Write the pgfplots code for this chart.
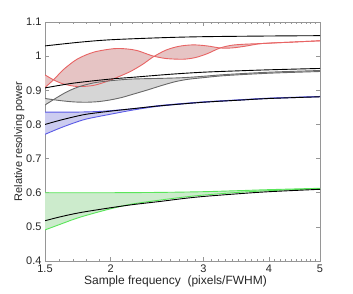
\documentclass[border=0pt]{standalone}
\usepackage{pgfplots}
\pgfplotsset{compat=1.18}
\usepgfplotslibrary{fillbetween}
\usepackage{fontspec}
\setmainfont{Liberation Sans}
\definecolor{redl}{RGB}{232,100,100}
\definecolor{redf}{RGB}{230,196,196}
\definecolor{grayl}{RGB}{105,105,105}
\definecolor{grayf}{RGB}{214,214,214}
\definecolor{bluel}{RGB}{90,90,230}
\definecolor{bluef}{RGB}{204,204,240}
\definecolor{greenl}{RGB}{90,230,90}
\definecolor{greenf}{RGB}{204,235,204}
\definecolor{axgray}{RGB}{150,150,150}
\begin{document}
\begin{tikzpicture}
\begin{axis}[
  at={(45pt,33pt)}, anchor=south west,
  scale only axis, width=275pt, height=239pt,
  xmode=log, xmin=1.5, xmax=5, ymin=0.4, ymax=1.1,
  xtick={1.5,2,3,4,5}, xticklabels={1.5,2,3,4,5},
  minor xtick={1.6,1.7,1.8,1.9,2.1,2.2,2.3,2.4,2.5,2.6,2.7,2.8,2.9,3.1,3.2,3.3,3.4,3.5,3.6,3.7,3.8,3.9,4.1,4.2,4.3,4.4,4.5,4.6,4.7,4.8,4.9},
  ytick={0.4,0.5,...,1.1},
  yticklabels={0.4,0.5,0.6,0.7,0.8,0.9,1,1.1},
  /pgf/number format/assume math mode=true,
  tick align=inside, major tick length=4pt, minor tick length=2pt,
  axis line style={axgray, line width=0.8pt},
  every tick/.style={axgray, line width=0.5pt},
  tick label style={font=\fontsize{11}{13}\selectfont, text=black!85},
  xlabel={Sample frequency\ \ (pixels/FWHM)},
  ylabel={Relative resolving power},
  xlabel style={font=\fontsize{12}{14}\selectfont, text=black!85, yshift=3pt, xshift=-7pt},
  ylabel style={font=\fontsize{11}{13}\selectfont, text=black!85, yshift=-5pt},
]
% red band
\addplot[draw=none, name path=rA, smooth] coordinates {
 (1.5,0.945) (1.56,0.930) (1.63,0.918) (1.73,0.911) (1.85,0.914) (1.95,0.924) (2.05,0.937) (2.18,0.955) (2.3,0.976) (2.41,0.998) (2.55,1.018) (2.7,1.029) (2.87,1.033) (3.05,1.030) (3.23,1.024) (3.4,1.024) (3.6,1.029) (3.88,1.037) (4.4,1.041) (5,1.045)};
\addplot[draw=none, name path=rB, smooth] coordinates {
 (1.5,0.908) (1.56,0.932) (1.63,0.962) (1.73,0.992) (1.86,1.012) (2.03,1.022) (2.15,1.021) (2.25,1.016) (2.4,1.001) (2.55,0.993) (2.75,0.991) (2.9,0.996) (3.05,1.007) (3.23,1.024) (3.4,1.032) (3.6,1.035) (3.88,1.037) (4.4,1.041) (5,1.045)};
\addplot[fill=redf, draw=none] fill between[of=rA and rB];
% gray band
\addplot[draw=none, name path=gA, smooth] coordinates {
 (1.5,0.857) (1.63,0.891) (1.73,0.909) (1.86,0.922) (2.03,0.929) (2.2,0.933) (2.5,0.935) (2.75,0.937) (3.0,0.941) (3.3,0.946) (4.0,0.953) (5,0.958)};
\addplot[draw=none, name path=gB, smooth] coordinates {
 (1.5,0.876) (1.6,0.870) (1.7,0.866) (1.8,0.865) (1.9,0.867) (2.0,0.872) (2.1,0.879) (2.2,0.888) (2.35,0.901) (2.5,0.914) (2.65,0.925) (2.8,0.932) (3.0,0.937) (3.3,0.943) (4.0,0.950) (5,0.955)};
\addplot[fill=grayf, draw=none] fill between[of=gA and gB];
% blue band
\addplot[draw=none, name path=bA, smooth] coordinates {
 (1.5,0.836) (1.7,0.836) (1.9,0.838) (2.1,0.843) (2.3,0.849) (2.5,0.856) (3,0.866) (3.5,0.872) (4,0.877) (5,0.882)};
\addplot[draw=none, name path=bB, smooth] coordinates {
 (1.5,0.771) (1.6,0.789) (1.7,0.804) (1.8,0.816) (2.0,0.830) (2.2,0.842) (2.4,0.851) (2.6,0.857) (3,0.865) (3.5,0.871) (4,0.876) (5,0.881)};
\addplot[fill=bluef, draw=none] fill between[of=bA and bB];
% green band
\addplot[draw=none, name path=vA, smooth] coordinates {
 (1.5,0.600) (2.0,0.600) (2.5,0.601) (3.0,0.603) (3.5,0.606) (4,0.609) (5,0.613)};
\addplot[draw=none, name path=vB, smooth] coordinates {
 (1.5,0.491) (1.6,0.507) (1.7,0.522) (1.8,0.534) (2.0,0.553) (2.2,0.567) (2.5,0.579) (2.75,0.587) (3,0.593) (3.5,0.601) (4,0.606) (5,0.612)};
\addplot[fill=greenf, draw=none] fill between[of=vA and vB];
% coloured lines
\addplot[redl, line width=0.9pt, smooth] coordinates {
 (1.5,0.945) (1.56,0.930) (1.63,0.918) (1.73,0.911) (1.85,0.914) (1.95,0.924) (2.05,0.937) (2.18,0.955) (2.3,0.976) (2.41,0.998) (2.55,1.018) (2.7,1.029) (2.87,1.033) (3.05,1.030) (3.23,1.024) (3.4,1.024) (3.6,1.029) (3.88,1.037) (4.4,1.041) (5,1.045)};
\addplot[redl, line width=0.9pt, smooth] coordinates {
 (1.5,0.908) (1.56,0.932) (1.63,0.962) (1.73,0.992) (1.86,1.012) (2.03,1.022) (2.15,1.021) (2.25,1.016) (2.4,1.001) (2.55,0.993) (2.75,0.991) (2.9,0.996) (3.05,1.007) (3.23,1.024) (3.4,1.032) (3.6,1.035) (3.88,1.037) (4.4,1.041) (5,1.045)};
\addplot[grayl, line width=0.9pt, smooth] coordinates {
 (1.5,0.857) (1.63,0.891) (1.73,0.909) (1.86,0.922) (2.03,0.929) (2.2,0.933) (2.5,0.935) (2.75,0.937) (3.0,0.941) (3.3,0.946) (4.0,0.953) (5,0.958)};
\addplot[grayl, line width=0.9pt, smooth] coordinates {
 (1.5,0.876) (1.6,0.870) (1.7,0.866) (1.8,0.865) (1.9,0.867) (2.0,0.872) (2.1,0.879) (2.2,0.888) (2.35,0.901) (2.5,0.914) (2.65,0.925) (2.8,0.932) (3.0,0.937) (3.3,0.943) (4.0,0.950) (5,0.955)};
\addplot[bluel, line width=0.9pt, smooth] coordinates {
 (1.5,0.836) (1.7,0.836) (1.9,0.838) (2.1,0.843) (2.3,0.849) (2.5,0.856) (3,0.866) (3.5,0.872) (4,0.877) (5,0.882)};
\addplot[bluel, line width=0.9pt, smooth] coordinates {
 (1.5,0.771) (1.6,0.789) (1.7,0.804) (1.8,0.816) (2.0,0.830) (2.2,0.842) (2.4,0.851) (2.6,0.857) (3,0.865) (3.5,0.871) (4,0.876) (5,0.881)};
\addplot[greenl, line width=0.9pt, smooth] coordinates {
 (1.5,0.600) (2.0,0.600) (2.5,0.601) (3.0,0.603) (3.5,0.606) (4,0.609) (5,0.613)};
\addplot[greenl, line width=0.9pt, smooth] coordinates {
 (1.5,0.491) (1.6,0.507) (1.7,0.522) (1.8,0.534) (2.0,0.553) (2.2,0.567) (2.5,0.579) (2.75,0.587) (3,0.593) (3.5,0.601) (4,0.606) (5,0.612)};
% black model curves
\addplot[black, line width=0.9pt, smooth] coordinates {
 (1.5,1.030) (1.75,1.041) (2,1.048) (2.5,1.054) (3,1.057) (4,1.059) (5,1.060)};
\addplot[black, line width=0.9pt, smooth] coordinates {
 (1.5,0.907) (1.7,0.921) (2.0,0.933) (2.2,0.938) (2.6,0.947) (3.0,0.953) (3.5,0.957) (4,0.960) (5,0.964)};
\addplot[black, line width=0.9pt, smooth] coordinates {
 (1.5,0.800) (1.6,0.812) (1.7,0.822) (1.8,0.830) (2.0,0.839) (2.2,0.846) (2.5,0.855) (3,0.865) (3.5,0.871) (4,0.876) (5,0.881)};
\addplot[black, line width=0.9pt, smooth] coordinates {
 (1.5,0.518) (1.6,0.529) (1.7,0.538) (1.8,0.545) (2.0,0.556) (2.2,0.565) (2.5,0.575) (2.75,0.583) (3,0.589) (3.5,0.597) (4,0.603) (5,0.610)};
\end{axis}
\path (0,0) rectangle (353pt,294pt);
\end{tikzpicture}
\end{document}
